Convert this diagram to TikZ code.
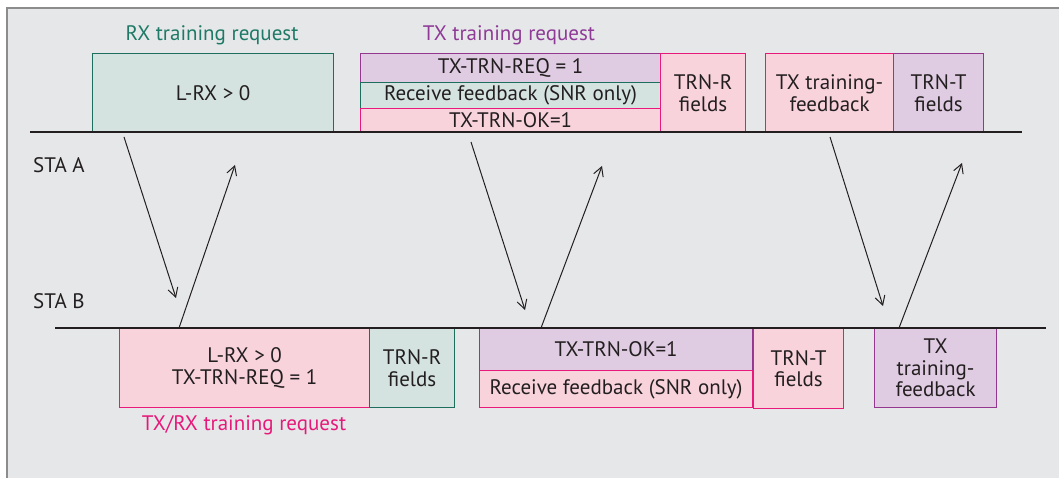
\documentclass[tikz,border=0pt]{standalone}
\usepackage{fontspec}
\setmainfont{PT Sans}
\usetikzlibrary{arrows.meta}
\definecolor{panel}{HTML}{E6E7E9}
\definecolor{frame}{HTML}{8C8C8C}
\definecolor{ink}{HTML}{231F20}
\definecolor{gfill}{HTML}{D5E3E0}
\definecolor{gline}{HTML}{1E6E5E}
\definecolor{pfill}{HTML}{F8D3DC}
\definecolor{pline}{HTML}{E8197A}
\definecolor{vfill}{HTML}{DFCCE2}
\definecolor{vline}{HTML}{93378F}
\definecolor{gtext}{HTML}{1E7A66}
\definecolor{vtext}{HTML}{8E3A96}
\definecolor{ptext}{HTML}{E6197A}
\begin{document}
\begin{tikzpicture}[x=1pt,y=-1pt,
  every node/.style={font=\fontsize{21}{21.5}\selectfont, text=ink},
  fbox/.style={draw, line width=1.2pt, inner sep=0pt, anchor=north west, align=center},
  gbox/.style={fbox, fill=gfill, draw=gline},
  pbox/.style={fbox, fill=pfill, draw=pline},
  vbox/.style={fbox, fill=vfill, draw=vline},
  station/.style={line width=1.1pt, draw=ink},
  msg/.style={line width=1pt, draw=ink, -{Straight Barb[length=9pt,width=10pt,line width=1pt]}},
  stalabel/.style={anchor=west, inner sep=0pt},
  grouplabel/.style={anchor=center}]
\useasboundingbox (0,0) rectangle (1059,478);
\fill[panel] (7,8) rectangle (1059,478);
\draw[frame, line width=2pt] (7,478) -- (7,8) -- (1059,8);

% STA A boxes
\node[gbox, minimum width=241pt, minimum height=79pt] (rx) at (92,53) {L-RX > 0};
\node[vbox, minimum width=300pt, minimum height=29pt] (treq) at (360,53) {TX-TRN-REQ = 1};
\node[gbox, minimum width=300pt, minimum height=26pt] (trfb) at (360,82) {Receive feedback (SNR only)};
\node[pbox, minimum width=300pt, minimum height=24pt] (tok) at (360,108) {TX-TRN-OK=1};
\node[pbox, minimum width=85pt, minimum height=79pt] (trnr) at (660,53) {TRN-R\\fields};
\node[pbox, minimum width=128pt, minimum height=79pt] (tfbA) at (765,53) {TX training-\\feedback};
\node[vbox, minimum width=90pt, minimum height=79pt] (trntA) at (893,53) {TRN-T\\fields};

% STA B boxes
\node[pbox, minimum width=250pt, minimum height=79pt] (txrx) at (119,328) {L-RX > 0\\TX-TRN-REQ = 1};
\node[gbox, minimum width=85pt, minimum height=79pt] (trnrB) at (369,328) {TRN-R\\fields};
\node[vbox, minimum width=273pt, minimum height=42pt] (okB) at (479,328) {TX-TRN-OK=1};
\node[pbox, minimum width=273pt, minimum height=37pt] (rfbB) at (479,370) {Receive feedback (SNR only)};
\node[pbox, minimum width=90pt, minimum height=80pt] (trntB) at (753,328) {TRN-T\\fields};
\node[vbox, minimum width=122pt, minimum height=79pt] (tfbB) at (874,328) {TX\\training-\\feedback};

% station lines
\coordinate (aL) at (30,132);
\coordinate (aR) at (1022,132);
\coordinate (bL) at (55,328);
\coordinate (bR) at (1046,328);
\draw[station] (aL) -- (aR);
\draw[station] (bL) -- (bR);

% labels
\node[stalabel] (staA) at (33,165) {STA A};
\node[stalabel] (staB) at (33,301) {STA B};
\node[grouplabel, text=gtext] (capRX) at (212,35) {RX training request};
\node[grouplabel, text=vtext] (capTX) at (509,35) {TX training request};
\node[grouplabel, text=ptext] (capTXRX) at (244,425) {TX/RX training request};

% message arrows
\coordinate (m1a) at (124,137); \coordinate (m1b) at (176,298);
\coordinate (m2a) at (179,328); \coordinate (m2b) at (235,165);
\coordinate (m3a) at (471,142); \coordinate (m3b) at (525,310);
\coordinate (m4a) at (541,328); \coordinate (m4b) at (602,166);
\coordinate (m5a) at (830,137); \coordinate (m5b) at (883,306);
\coordinate (m6a) at (899,328); \coordinate (m6b) at (962,163);
\draw[msg] (m1a) -- (m1b);
\draw[msg] (m2a) -- (m2b);
\draw[msg] (m3a) -- (m3b);
\draw[msg] (m4a) -- (m4b);
\draw[msg] (m5a) -- (m5b);
\draw[msg] (m6a) -- (m6b);
\end{tikzpicture}
\end{document}
